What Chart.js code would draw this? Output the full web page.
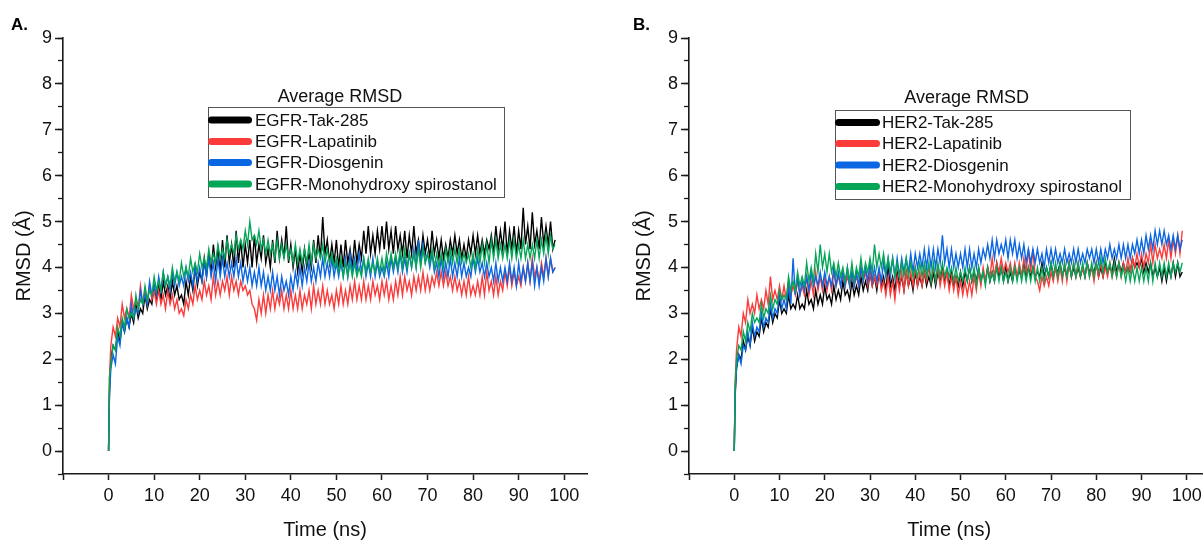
<!DOCTYPE html>
<html><head><meta charset="utf-8">
<script src="https://cdn.jsdelivr.net/npm/chart.js@4.4.1/dist/chart.umd.min.js"></script>
<style>
html,body{margin:0;padding:0;background:#fff;overflow:hidden;width:1203px;height:543px;position:relative;}
canvas{position:absolute;top:0;}
#cA{left:0;} #cB{left:620px;}
</style></head><body>
<canvas id="cA" width="600" height="543"></canvas>
<canvas id="cB" width="600" height="543"></canvas>
<script>
// ---------- DATA ----------
const legendTitle = 'Average RMSD';
const labelsA = ['EGFR-Tak-285','EGFR-Lapatinib','EGFR-Diosgenin','EGFR-Monohydroxy spirostanol'];
const labelsB = ['HER2-Tak-285','HER2-Lapatinib','HER2-Diosgenin','HER2-Monohydroxy spirostanol'];
const xTitle = 'Time (ns)';
const yTitle = 'RMSD (Å)';

const timesA = [0,0.2,0.5,
 1,1.5,2,2.5,3,3.5,4,4.5,5,5.5,6,6.5,7,7.5,8,8.5,9,9.5,10,10.5,
 11,11.5,12,12.5,13,13.5,14,14.5,15,15.5,16,16.5,17,17.5,18,18.5,19,19.5,20,20.5,
 21,21.5,22,22.5,23,23.5,24,24.5,25,25.5,26,26.5,27,27.5,28,28.5,29,29.5,30,30.5,
 31,31.5,32,32.5,33,33.5,34,34.5,35,35.5,36,36.5,37,37.5,38,38.5,39,39.5,40,40.5,
 41,41.5,42,42.5,43,43.5,44,44.5,45,45.5,46,46.5,47,47.5,48,48.5,49,49.5,50,50.5,
 51,51.5,52,52.5,53,53.5,54,54.5,55,55.5,56,56.5,57,57.5,58,58.5,59,59.5,60,60.5,
 61,61.5,62,62.5,63,63.5,64,64.5,65,65.5,66,66.5,67,67.5,68,68.5,69,69.5,70,70.5,
 71,71.5,72,72.5,73,73.5,74,74.5,75,75.5,76,76.5,77,77.5,78,78.5,79,79.5,80,80.5,
 81,81.5,82,82.5,83,83.5,84,84.5,85,85.5,86,86.5,87,87.5,88,88.5,89,89.5,90,90.5,
 91,91.5,92,92.5,93,93.5,94,94.5,95,95.5,96,96.5,97,97.5,98];
const timesB = [0,0.2,0.5,
 1,1.5,2,2.5,3,3.5,4,4.5,5,5.5,6,6.5,7,7.5,8,8.5,9,9.5,10,10.5,
 11,11.5,12,12.5,13,13.5,14,14.5,15,15.5,16,16.5,17,17.5,18,18.5,19,19.5,20,20.5,
 21,21.5,22,22.5,23,23.5,24,24.5,25,25.5,26,26.5,27,27.5,28,28.5,29,29.5,30,30.5,
 31,31.5,32,32.5,33,33.5,34,34.5,35,35.5,36,36.5,37,37.5,38,38.5,39,39.5,40,40.5,
 41,41.5,42,42.5,43,43.5,44,44.5,45,45.5,46,46.5,47,47.5,48,48.5,49,49.5,50,50.5,
 51,51.5,52,52.5,53,53.5,54,54.5,55,55.5,56,56.5,57,57.5,58,58.5,59,59.5,60,60.5,
 61,61.5,62,62.5,63,63.5,64,64.5,65,65.5,66,66.5,67,67.5,68,68.5,69,69.5,70,70.5,
 71,71.5,72,72.5,73,73.5,74,74.5,75,75.5,76,76.5,77,77.5,78,78.5,79,79.5,80,80.5,
 81,81.5,82,82.5,83,83.5,84,84.5,85,85.5,86,86.5,87,87.5,88,88.5,89,89.5,90,90.5,
 91,91.5,92,92.5,93,93.5,94,94.5,95,95.5,96,96.5,97,97.5,98,98.5,99];

const egfrTak = [0,1.3,2.0,
 2.3,2.2,2.6,2.4,2.8,2.6,2.9,2.7,3.0,2.8,3.2,2.9,3.1,3.0,3.4,3.1,3.3,3.2,3.6,3.3,
 3.6,3.3,3.7,3.4,3.6,3.3,3.7,3.4,3.6,3.3,3.4,3.2,3.7,3.4,3.8,3.5,4.0,3.6,3.9,3.7,
 4.2,3.8,4.3,3.9,4.5,4.0,4.4,3.9,4.6,4.0,4.7,4.1,4.5,4.0,4.8,4.1,4.6,4.0,4.5,4.1,
 4.6,4.0,4.7,4.1,4.5,4.2,4.7,4.1,4.4,4.0,4.6,4.1,4.8,4.2,4.6,4.2,4.9,4.1,4.5,4.0,
 4.4,3.9,4.3,3.9,4.4,4.0,4.3,4.0,4.6,4.1,4.7,4.2,5.1,4.3,4.6,4.1,4.5,4.1,4.6,4.0,
 4.5,4.0,4.6,4.1,4.4,4.0,4.6,4.1,4.5,4.2,4.8,4.3,4.9,4.3,4.7,4.3,4.8,4.4,4.9,4.4,
 5.0,4.4,4.8,4.3,4.9,4.4,4.7,4.3,4.8,4.2,4.7,4.3,4.9,4.3,4.6,4.2,4.7,4.3,4.6,4.2,
 4.8,4.3,4.6,4.2,4.6,4.2,4.5,4.2,4.6,4.3,4.7,4.3,4.6,4.2,4.5,4.2,4.6,4.3,4.7,4.3,
 4.7,4.3,4.6,4.3,4.6,4.4,4.7,4.3,4.9,4.4,4.8,4.4,5.0,4.3,4.8,4.4,4.9,4.3,4.8,4.4,
 5.3,4.5,4.9,4.4,5.2,4.5,4.8,4.4,5.1,4.5,4.9,4.5,5.0,4.4,4.6];
const egfrLap = [0,1.6,2.3,
 2.7,2.5,2.9,2.7,3.2,2.9,3.1,2.9,3.4,3.1,3.3,3.1,3.6,3.2,3.5,3.2,3.6,3.3,3.5,3.2,
 3.5,3.2,3.4,3.1,3.5,3.2,3.4,3.1,3.3,3.0,3.1,2.95,3.3,3.1,3.4,3.2,3.6,3.3,3.5,3.3,
 3.7,3.4,3.6,3.3,3.8,3.4,3.7,3.4,3.7,3.5,3.8,3.4,3.8,3.5,3.7,3.4,3.7,3.5,3.6,3.4,
 3.5,3.2,3.1,2.85,3.3,3.0,3.4,3.0,3.4,3.1,3.5,3.1,3.4,3.2,3.5,3.1,3.4,3.1,3.5,3.1,
 3.4,3.1,3.5,3.1,3.4,3.2,3.5,3.1,3.6,3.2,3.5,3.2,3.6,3.2,3.5,3.2,3.4,3.1,3.5,3.2,
 3.6,3.2,3.5,3.2,3.6,3.3,3.7,3.3,3.6,3.3,3.7,3.3,3.6,3.3,3.7,3.4,3.6,3.3,3.7,3.4,
 3.7,3.3,3.6,3.3,3.7,3.4,3.8,3.4,3.8,3.5,3.7,3.4,3.8,3.5,3.8,3.5,3.9,3.5,3.8,3.5,
 3.8,3.6,3.9,3.6,3.9,3.6,3.9,3.6,3.8,3.5,3.8,3.5,3.7,3.4,3.7,3.4,3.8,3.4,3.6,3.4,
 3.7,3.4,3.8,3.4,3.9,3.5,3.7,3.4,3.8,3.4,3.7,3.5,3.9,3.6,4.0,3.6,3.9,3.6,3.8,3.6,
 4.0,3.7,4.1,3.7,4.2,3.8,4.0,3.7,4.1,3.8,4.2,3.8,4.2,3.9,4.0];
const egfrDio = [0,1.2,1.8,
 2.1,1.9,2.5,2.3,2.8,2.6,2.9,2.7,3.2,2.9,3.1,3.0,3.5,3.2,3.4,3.2,3.7,3.4,3.6,3.4,
 3.8,3.5,3.9,3.6,3.8,3.5,3.9,3.6,3.9,3.6,3.8,3.6,4.0,3.7,3.9,3.6,4.0,3.7,4.0,3.7,
 4.1,3.8,4.2,3.8,4.1,3.7,4.2,3.8,4.2,3.8,4.1,3.8,4.1,3.8,4.2,3.8,4.1,3.7,4.0,3.7,
 4.0,3.6,3.9,3.6,4.0,3.6,3.9,3.5,3.8,3.5,3.9,3.5,3.8,3.4,3.8,3.5,3.7,3.4,3.8,3.5,
 3.9,3.6,4.0,3.6,4.0,3.7,4.1,3.7,4.0,3.7,4.1,3.8,4.2,3.8,4.1,3.8,4.2,3.8,4.1,3.8,
 4.1,3.8,4.2,3.8,4.3,3.9,4.2,3.9,4.3,3.9,4.2,3.8,4.1,3.8,4.2,3.8,4.1,3.8,4.0,3.8,
 4.1,3.8,4.2,3.9,4.2,3.9,4.3,3.9,4.2,3.9,4.3,4.0,4.4,4.0,4.6,4.1,4.5,4.1,4.3,4.0,
 4.3,3.9,4.1,3.8,4.2,3.8,4.1,3.8,4.2,3.8,4.1,3.8,4.2,3.8,4.1,3.8,4.0,3.8,4.2,3.9,
 4.2,3.9,4.1,3.8,4.1,3.8,4.0,3.7,4.1,3.7,4.0,3.7,4.0,3.7,4.1,3.7,4.0,3.6,4.1,3.7,
 4.0,3.7,4.1,3.7,4.1,3.6,4.0,3.6,4.0,3.7,4.2,3.8,4.2,3.9,4.0];
const egfrMono = [0,1.6,1.9,
 2.3,2.2,2.7,2.5,2.9,2.7,3.1,2.9,3.0,2.9,3.4,3.1,3.3,3.2,3.6,3.3,3.5,3.4,3.8,3.5,
 3.7,3.5,3.9,3.6,3.8,3.6,4.0,3.7,3.9,3.7,4.1,3.8,4.0,3.8,4.2,3.9,4.1,3.9,4.3,4.0,
 4.2,4.0,4.4,4.1,4.3,4.1,4.5,4.2,4.4,4.2,4.6,4.3,4.5,4.3,4.7,4.4,4.6,4.4,4.8,4.5,
 5.0,4.6,4.7,4.5,4.8,4.4,4.6,4.3,4.6,4.3,4.5,4.2,4.6,4.2,4.5,4.2,4.5,4.2,4.4,4.1,
 4.5,4.1,4.4,4.1,4.4,4.1,4.5,4.1,4.5,4.2,4.4,4.2,4.5,4.1,4.4,4.1,4.3,4.0,4.2,3.9,
 4.2,3.8,4.1,3.8,4.1,3.8,4.1,3.8,4.0,3.8,4.2,3.9,4.2,3.9,4.1,3.9,4.2,3.9,4.2,3.9,
 4.3,4.0,4.3,4.0,4.3,4.0,4.4,4.0,4.4,4.0,4.3,4.0,4.3,4.0,4.4,4.0,4.4,4.1,4.3,4.1,
 4.4,4.0,4.3,4.0,4.3,4.0,4.4,4.1,4.4,4.1,4.4,4.1,4.4,4.1,4.3,4.1,4.3,4.0,4.3,4.0,
 4.4,4.1,4.5,4.1,4.5,4.1,4.6,4.2,4.6,4.2,4.5,4.2,4.5,4.2,4.6,4.2,4.6,4.2,4.5,4.2,
 4.6,4.2,4.5,4.2,4.5,4.2,4.6,4.2,4.6,4.3,4.7,4.3,4.7,4.4,4.5];

const her2Tak = [0,1.2,1.8,
 2.1,2.0,2.4,2.2,2.5,2.3,2.7,2.4,2.6,2.5,2.9,2.6,2.8,2.7,3.1,2.8,3.0,2.9,3.3,3.0,
 3.1,3.0,3.4,3.1,3.2,3.1,3.4,3.1,3.2,3.1,3.5,3.2,3.3,3.1,3.5,3.2,3.4,3.2,3.6,3.3,
 3.4,3.2,3.6,3.3,3.5,3.3,3.7,3.4,3.5,3.3,3.7,3.4,3.6,3.4,3.8,3.5,3.7,3.5,3.9,3.6,
 3.8,3.5,3.9,3.6,3.8,3.5,4.0,3.6,3.8,3.5,3.9,3.6,3.8,3.5,3.9,3.6,3.8,3.5,3.9,3.6,
 3.8,3.6,3.9,3.6,3.8,3.6,3.9,3.6,3.9,3.7,4.0,3.7,3.9,3.6,3.9,3.6,3.8,3.6,3.9,3.6,
 3.9,3.7,4.0,3.7,3.9,3.7,4.0,3.7,3.9,3.7,4.0,3.7,3.9,3.7,4.1,3.8,4.0,3.7,4.0,3.7,
 3.9,3.7,4.0,3.8,3.9,3.8,4.1,3.8,4.0,3.8,4.0,3.8,3.9,3.8,4.1,3.8,4.0,3.8,4.1,3.8,
 4.0,3.9,4.1,3.8,4.0,3.8,4.1,3.8,4.0,3.8,4.0,3.8,4.0,3.8,4.1,3.9,4.0,3.9,4.1,3.8,
 4.0,3.8,4.1,3.9,4.0,3.9,4.2,3.9,4.1,3.9,4.1,3.9,4.0,3.9,4.2,4.0,4.1,4.0,4.2,3.9,
 4.1,3.9,4.1,3.8,4.0,3.8,4.0,3.7,4.0,3.7,4.0,3.8,4.1,3.8,4.1,3.8,3.9];
const her2Lap = [0,1.5,2.2,
 2.7,2.5,3.0,2.8,3.3,3.0,3.2,3.0,3.4,3.1,3.3,3.1,3.5,3.2,3.8,3.3,3.5,3.3,3.6,3.3,
 3.6,3.3,3.7,3.4,3.6,3.4,3.7,3.4,3.6,3.4,3.8,3.4,3.7,3.4,3.9,3.5,3.8,3.5,3.8,3.5,
 3.8,3.5,3.9,3.6,3.8,3.6,3.9,3.6,3.8,3.6,3.9,3.6,3.8,3.6,4.0,3.7,3.9,3.6,3.9,3.6,
 3.8,3.6,3.9,3.5,3.7,3.4,3.8,3.4,3.7,3.3,3.8,3.5,3.9,3.5,3.9,3.6,3.9,3.6,4.0,3.6,
 3.9,3.6,3.9,3.7,4.0,3.7,4.0,3.7,4.0,3.6,3.9,3.6,3.9,3.5,3.8,3.5,3.8,3.4,3.7,3.4,
 3.7,3.4,3.7,3.4,3.8,3.5,3.9,3.6,4.0,3.7,4.0,3.8,4.2,3.8,4.1,3.9,4.2,3.9,4.1,3.9,
 4.1,3.8,4.1,3.8,4.1,3.8,4.2,3.9,4.4,3.9,4.4,3.8,3.7,3.5,3.8,3.6,3.8,3.6,3.9,3.7,
 4.0,3.7,4.0,3.7,4.1,3.7,4.1,3.8,4.1,3.8,4.1,3.8,4.0,3.8,4.1,3.8,4.0,3.7,4.1,3.8,
 4.1,3.8,4.0,3.8,4.1,3.8,4.0,3.8,4.1,3.8,4.1,3.9,4.2,3.9,4.2,4.0,4.3,4.0,4.3,4.0,
 4.3,4.1,4.5,4.1,4.5,4.2,4.4,4.2,4.5,4.2,4.6,4.2,4.6,4.3,4.7,4.3,4.8];
const her2Dio = [0,1.3,1.8,
 2.1,1.9,2.3,2.2,2.6,2.3,2.8,2.5,2.7,2.6,3.0,2.7,2.9,2.8,3.2,2.9,3.1,3.0,3.4,3.1,
 3.3,3.1,3.6,3.2,4.2,3.4,3.8,3.4,3.7,3.5,3.8,3.5,3.9,3.6,3.8,3.6,3.9,3.6,3.9,3.6,
 3.8,3.6,4.0,3.6,3.9,3.6,3.9,3.6,4.0,3.6,3.9,3.6,3.9,3.6,4.0,3.7,4.0,3.7,4.1,3.7,
 4.0,3.7,4.0,3.7,4.1,3.8,4.2,3.8,4.2,3.8,4.2,3.8,4.2,3.9,4.2,3.9,4.3,3.9,4.3,4.0,
 4.3,4.0,4.4,4.0,4.4,4.0,4.4,4.0,4.4,4.1,4.7,4.1,4.4,4.0,4.4,4.0,4.3,4.0,4.3,4.0,
 4.4,4.0,4.4,4.0,4.3,4.0,4.4,4.1,4.4,4.2,4.5,4.2,4.6,4.2,4.6,4.3,4.5,4.3,4.6,4.2,
 4.6,4.3,4.6,4.2,4.5,4.2,4.5,4.1,4.4,4.1,4.4,4.1,4.4,4.1,4.3,4.0,4.4,4.1,4.4,4.1,
 4.4,4.1,4.3,4.1,4.4,4.1,4.3,4.1,4.4,4.1,4.4,4.1,4.3,4.1,4.4,4.2,4.4,4.1,4.4,4.1,
 4.4,4.1,4.4,4.2,4.5,4.2,4.4,4.2,4.5,4.2,4.5,4.2,4.5,4.2,4.5,4.3,4.6,4.3,4.6,4.3,
 4.7,4.4,4.7,4.4,4.8,4.5,4.8,4.5,4.8,4.5,4.7,4.4,4.7,4.4,4.7,4.4,4.6];
const her2Mono = [0,1.4,2.0,
 2.3,2.2,2.6,2.4,2.8,2.6,3.0,2.8,2.9,2.8,3.2,2.9,3.1,3.0,3.4,3.1,3.3,3.2,3.5,3.3,
 3.4,3.3,3.8,3.5,3.7,3.5,3.9,3.6,3.8,3.6,4.1,3.7,4.0,3.7,4.3,3.9,4.5,4.0,4.3,3.9,
 4.3,3.9,4.1,3.8,4.1,3.8,4.0,3.7,4.0,3.7,4.1,3.7,4.0,3.8,4.2,3.8,4.1,3.9,4.2,3.9,
 4.5,4.0,4.3,4.0,4.3,3.9,4.2,3.9,4.2,3.8,4.1,3.8,4.1,3.8,4.2,3.8,4.1,3.8,4.0,3.8,
 4.1,3.8,4.1,3.8,4.1,3.7,4.1,3.7,4.1,3.8,4.1,3.8,4.0,3.8,4.0,3.7,4.0,3.7,3.9,3.7,
 4.0,3.7,4.0,3.7,4.0,3.6,4.0,3.7,3.9,3.6,4.0,3.7,3.9,3.7,4.0,3.7,4.0,3.7,3.9,3.7,
 4.0,3.7,4.0,3.7,4.0,3.7,4.0,3.7,4.0,3.7,4.0,3.7,4.0,3.7,4.0,3.7,4.0,3.8,4.1,3.8,
 4.1,3.8,4.1,3.8,4.1,3.8,4.1,3.8,4.1,3.8,4.1,3.8,4.1,3.8,4.1,3.8,4.1,3.8,4.1,3.9,
 4.2,3.9,4.2,3.9,4.1,3.8,4.1,3.8,4.1,3.8,4.0,3.7,4.0,3.7,4.0,3.7,4.0,3.7,4.0,3.7,
 4.0,3.7,4.1,3.7,4.1,3.8,4.1,3.8,4.1,3.8,4.1,3.8,4.1,3.9,4.1,3.9,4.1];

// ---------- STYLE ----------
const FONT = "'Liberation Sans', Arial, Helvetica, sans-serif";
const colors = ['#000000', '#fb3a3a', '#0a66e2', '#05a558'];
const axisColor = '#1a1a1a';
Chart.defaults.font.family = FONT;

const rmsdLegend = {
  id: 'rmsdLegend',
  afterDraw(chart, args, o) {
    if (!o || !o.box) return;
    const ctx = chart.ctx;
    ctx.save();
    ctx.fillStyle = '#111';
    ctx.font = o.titleSize + 'px ' + FONT;
    ctx.textAlign = 'center';
    ctx.textBaseline = 'middle';
    ctx.fillText(o.title, o.titleX, o.titleY);
    ctx.strokeStyle = '#555';
    ctx.lineWidth = 1;
    ctx.strokeRect(o.box[0] + 0.5, o.box[1] + 0.5, o.box[2] - o.box[0], o.box[3] - o.box[1]);
    chart.data.datasets.forEach((ds, i) => {
      const y = o.rows[i];
      ctx.strokeStyle = ds.borderColor;
      ctx.lineWidth = 7;
      ctx.lineCap = 'round';
      ctx.beginPath();
      ctx.moveTo(o.sample[0], y);
      ctx.lineTo(o.sample[1], y);
      ctx.stroke();
      ctx.fillStyle = '#111';
      ctx.textAlign = 'left';
      ctx.font = o.textSize + 'px ' + FONT;
      ctx.fillText(ds.label, o.textX, y + 1);
    });
    ctx.restore();
  }
};
const panelTag = {
  id: 'panelTag',
  afterDraw(chart, args, o) {
    if (!o || !o.text) return;
    const ctx = chart.ctx;
    ctx.save();
    ctx.fillStyle = '#000';
    ctx.font = 'bold ' + o.size + 'px ' + FONT;
    ctx.textAlign = 'left';
    ctx.textBaseline = 'alphabetic';
    ctx.fillText(o.text, o.x, o.y);
    ctx.restore();
  }
};
Chart.register(rmsdLegend, panelTag);

function makePanel(id, times, labels, series, g) {
  const datasets = series.map((vals, i) => ({
    label: labels[i],
    data: times.map((t, j) => ({x: t, y: vals[j]})),
    borderColor: colors[i],
    backgroundColor: colors[i],
    borderWidth: 1.4,
    pointRadius: 0,
    fill: false,
    tension: 0,
    order: series.length - i
  }));
  return new Chart(document.getElementById(id), {
    type: 'line',
    data: {datasets},
    options: {
      responsive: false,
      animation: false,
      devicePixelRatio: 1,
      events: [],
      layout: {padding: {left: 0, right: g.padRight, top: g.padTop, bottom: 0}},
      plugins: {
        legend: {display: false},
        tooltip: {enabled: false},
        rmsdLegend: g.legend,
        panelTag: g.tag
      },
      scales: {
        x: {
          type: 'linear', position: 'bottom', min: -10, max: 105,
          ticks: {stepSize: 10, includeBounds: false, autoSkip: false, maxRotation: 0,
                  color: '#111', font: {size: 18, family: FONT}, padding: 5,
                  callback: v => (v < 0 ? '' : String(v))},
          grid: {drawOnChartArea: false, drawTicks: true, tickLength: 6, tickColor: axisColor, tickWidth: 1.5},
          border: {display: true, color: axisColor, width: 1.6},
          title: {display: true, text: xTitle, color: '#111', font: {size: 20, family: FONT}, padding: {top: 0, bottom: 1}},
          afterFit: s => { s.height = g.xAxisH; }
        },
        y: {
          type: 'linear', position: 'left', weight: 1, min: -0.5, max: 9,
          ticks: {stepSize: 1, includeBounds: false, autoSkip: false,
                  color: '#111', font: {size: 18, family: FONT}, padding: 3,
                  callback: v => (v < 0 ? '' : String(v))},
          grid: {drawOnChartArea: false, drawTicks: true, tickLength: 8, tickColor: axisColor, tickWidth: 1.5},
          border: {display: true, color: axisColor, width: 1.6},
          title: {display: true, text: yTitle, color: '#111', font: {size: 20, family: FONT}, padding: {top: g.yTitlePad, bottom: 0}},
          afterFit: s => { s.width = g.yAxisW; }
        },
        yMinor: {
          type: 'linear', position: 'left', weight: 0, min: -0.5, max: 9,
          ticks: {display: false, stepSize: 0.5, includeBounds: false, autoSkip: false},
          grid: {drawOnChartArea: false, drawTicks: true, tickLength: 5, tickColor: axisColor, tickWidth: 1.3},
          border: {display: false},
          afterFit: s => { s.width = 0; }
        }
      }
    }
  });
}

makePanel('cA', timesA, labelsA, [egfrTak, egfrLap, egfrDio, egfrMono], {
  padRight: 13, padTop: 38, xAxisH: 69, yAxisW: 63, yTitlePad: 12,
  tag: {text: 'A.', x: 11, y: 30, size: 17},
  legend: {title: legendTitle, titleX: 340, titleY: 97, titleSize: 18,
           box: [208, 107, 504, 197], rows: [120, 141.5, 162.5, 184],
           sample: [211.5, 248.5], textX: 255, textSize: 17}
});
makePanel('cB', timesB, labelsB, [her2Tak, her2Lap, her2Dio, her2Mono], {
  padRight: 10.6, padTop: 38, xAxisH: 69, yAxisW: 69, yTitlePad: 12,
  tag: {text: 'B.', x: 13, y: 30, size: 17},
  legend: {title: legendTitle, titleX: 346.7, titleY: 98, titleSize: 18,
           box: [215, 110, 510, 199], rows: [122.5, 143.5, 165, 186.5],
           sample: [218.5, 256.5], textX: 262, textSize: 17}
});
</script>
</body></html>
